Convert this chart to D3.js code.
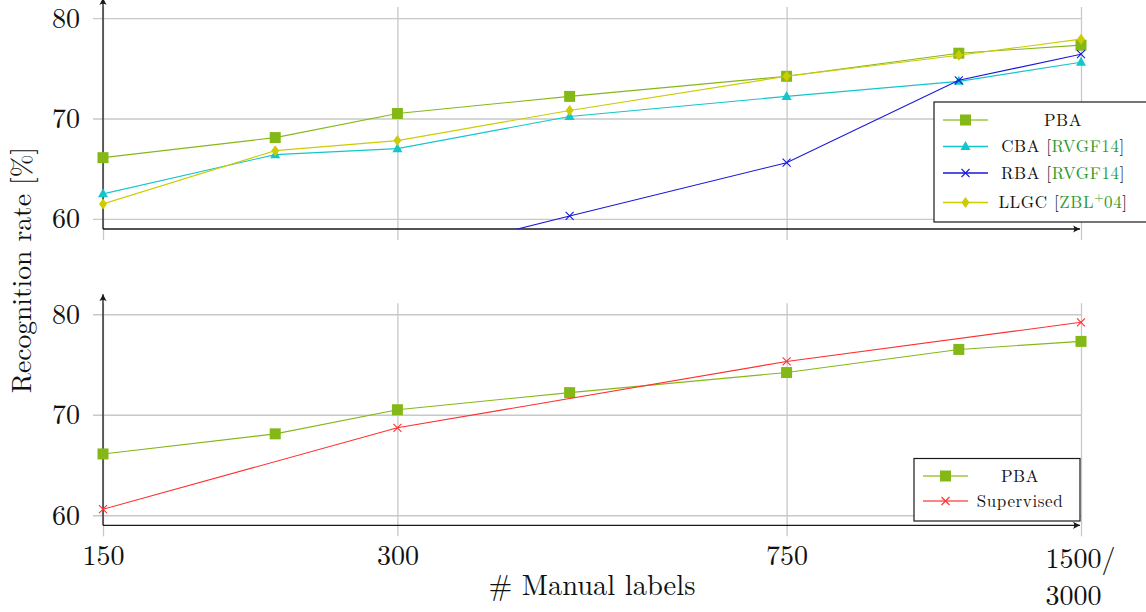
<!DOCTYPE html>
<html>
<head>
<meta charset="utf-8">
<script src="https://cdn.jsdelivr.net/npm/d3@7"></script>
<style>
  html, body { margin: 0; padding: 0; background: #fff; }
  svg { display: block; }
</style>
</head>
<body>
<svg id="chart" width="1146" height="612"></svg>
<script>
// Number of manually labelled samples (log-spaced)
const labelCounts = [150, 225, 300, 450, 750, 1125, 1500];

// Recognition rate [%] per method
const pba  = [66.1, 68.1, 70.5, 72.2, 74.2, 76.5, 77.3];
const cba  = [62.5, 66.4, 67.0, 70.2, 72.2, 73.7, 75.6];
const rba  = [null, null, 56.0, 60.3, 65.6, 73.8, 76.4];
const llgc = [61.5, 66.8, 67.8, 70.8, 74.2, 76.3, 77.9];

// Fully supervised baseline (fewer measurement points)
const supervisedCounts = [150, 300, 750, 1500];
const supervised = [60.6, 68.7, 75.3, 79.2];

// Axis ticks
const xTicks = [150, 300, 750, 1500];
const xTickLabels = [["150"], ["300"], ["750"], ["1500/", "3000"]];
const yTicks = [60, 70, 80];

const FONT = '"Latin Modern Roman", "CMU Serif", "Liberation Serif", serif';
const svg = d3.select("#chart");

const colors = {
  pba: "#84b817",
  cba: "#12c6cc",
  rba: "#1818d8",
  llgc: "#cccc00",
  sup: "#ff3030"
};

const x = d3.scaleLog().domain([150, 1500]).range([103, 1081]);

// arrow head for the axis lines
const defs = svg.append("defs");
defs.append("marker")
  .attr("id", "arrow")
  .attr("markerUnits", "userSpaceOnUse")
  .attr("viewBox", "-8 -5 10 10")
  .attr("refX", 0).attr("refY", 0)
  .attr("markerWidth", 10).attr("markerHeight", 10)
  .attr("orient", "auto")
  .append("path")
  .attr("d", "M0,0 L-7,-3.6 Q-4.5,0 -7,3.6 Z")
  .attr("fill", "#1a1a1a");

// marker symbols
function drawMarker(g, type, cx, cy, color) {
  if (type === "square") {
    g.append("rect").attr("x", cx - 5.5).attr("y", cy - 5.5)
      .attr("width", 11).attr("height", 11).attr("fill", color);
  } else if (type === "triangle") {
    g.append("path").attr("transform", `translate(${cx},${cy})`)
      .attr("d", "M0,-5.5 L5,3.5 L-5,3.5 Z").attr("fill", color);
  } else if (type === "diamond") {
    g.append("path").attr("transform", `translate(${cx},${cy})`)
      .attr("d", "M0,-5.5 L4,0 L0,5.5 L-4,0 Z").attr("fill", color);
  } else if (type === "cross") {
    g.append("path").attr("transform", `translate(${cx},${cy})`)
      .attr("d", "M-4,-4 L4,4 M-4,4 L4,-4")
      .attr("stroke", color).attr("stroke-width", 1.1).attr("fill", "none");
  }
}

function drawPanel(opts) {
  const { top, bottom, series, id, showXLabels } = opts;
  const y = d3.scaleLinear().domain([59, 81]).range([bottom, top]);
  const g = svg.append("g");

  // horizontal grid + y tick labels
  const yAxis = d3.axisLeft(y).tickValues(yTicks)
    .tickSize(-(1081 - 93)).tickPadding(13).tickFormat(d3.format("d"));
  const ya = g.append("g").attr("transform", "translate(93,0)").call(yAxis);
  ya.select(".domain").remove();
  ya.selectAll(".tick line").attr("stroke", "#c8c8c8").attr("stroke-width", 1.3);
  ya.selectAll(".tick text").style("font-family", FONT).style("font-size", "28px")
    .attr("fill", "#111");

  // vertical grid + x tick labels
  const gridBottom = bottom + 11;
  const xAxis = d3.axisBottom(x).tickValues(xTicks)
    .tickSize(-(gridBottom - (top - 1))).tickPadding(11).tickFormat(() => "");
  const xa = g.append("g").attr("transform", `translate(0,${gridBottom})`).call(xAxis);
  xa.select(".domain").remove();
  xa.selectAll(".tick line").attr("stroke", "#c8c8c8").attr("stroke-width", 1.3);

  if (showXLabels) {
    xa.selectAll(".tick text").each(function (d, i) {
      const lines = xTickLabels[i];
      const t = d3.select(this).style("font-family", FONT).style("font-size", "28px")
        .attr("fill", "#111").attr("dy", null).attr("y", 0);
      if (lines.length === 1) {
        t.text(lines[0]).attr("y", 29);
      } else {
        t.attr("text-anchor", "start");
        lines.forEach((s, k) => {
          t.append("tspan").attr("x", -36).attr("y", 32 + k * 37).text(s);
        });
      }
    });
  }

  // axis lines with arrows
  g.append("line").attr("x1", 103).attr("x2", 1080).attr("y1", bottom).attr("y2", bottom)
    .attr("stroke", "#1a1a1a").attr("stroke-width", 1.3).attr("marker-end", "url(#arrow)");
  g.append("line").attr("x1", 103).attr("x2", 103).attr("y1", bottom).attr("y2", top - 10)
    .attr("stroke", "#1a1a1a").attr("stroke-width", 1.3).attr("marker-end", "url(#arrow)");

  // clip region for the data lines
  defs.append("clipPath").attr("id", id).append("rect")
    .attr("x", 103).attr("y", top - 10).attr("width", 1081 - 103).attr("height", bottom - top + 10);

  const line = d3.line()
    .defined(d => d.v !== null)
    .x(d => x(d.n)).y(d => y(d.v));

  series.forEach(s => {
    const pts = s.xs.map((n, i) => ({ n, v: s.values[i] }));
    g.append("path").datum(pts)
      .attr("clip-path", `url(#${id})`)
      .attr("d", line)
      .attr("fill", "none").attr("stroke", s.color).attr("stroke-width", 1.1);
    const mg = g.append("g");
    pts.filter(p => p.v !== null && p.v >= 59).forEach(p => {
      drawMarker(mg, s.marker, x(p.n), y(p.v), s.color);
    });
  });
  return g;
}

drawPanel({
  top: 8, bottom: 229, id: "clipTop", showXLabels: false,
  series: [
    { xs: labelCounts, values: pba,  color: colors.pba,  marker: "square" },
    { xs: labelCounts, values: cba,  color: colors.cba,  marker: "triangle" },
    { xs: labelCounts, values: rba,  color: colors.rba,  marker: "cross" },
    { xs: labelCounts, values: llgc, color: colors.llgc, marker: "diamond" }
  ]
});

drawPanel({
  top: 304.2, bottom: 525.3, id: "clipBottom", showXLabels: true,
  series: [
    { xs: labelCounts, values: pba, color: colors.pba, marker: "square" },
    { xs: supervisedCounts, values: supervised, color: colors.sup, marker: "cross" }
  ]
});

// axis titles
svg.append("text")
  .attr("transform", "translate(31,270) rotate(-90)")
  .attr("text-anchor", "middle")
  .style("font-family", FONT).style("font-size", "27.5px").attr("fill", "#111")
  .text("Recognition rate [%]");

svg.append("text")
  .attr("x", 592).attr("y", 595)
  .attr("text-anchor", "middle")
  .style("font-family", FONT).style("font-size", "28.5px").attr("fill", "#111")
  .text("# Manual labels");

// legends
function legend(box, entries) {
  const g = svg.append("g");
  g.append("rect").attr("x", box.x).attr("y", box.y).attr("width", box.w).attr("height", box.h)
    .attr("fill", "#fff").attr("stroke", "#1a1a1a").attr("stroke-width", 1.2);
  entries.forEach((e, i) => {
    const cy = box.rows[i];
    g.append("line").attr("x1", box.lx).attr("x2", box.lx + 45).attr("y1", cy).attr("y2", cy)
      .attr("stroke", e.color).attr("stroke-width", e.soft ? 2.2 : 1.3)
      .attr("stroke-opacity", e.soft ? 0.6 : 1);
    drawMarker(g, e.marker, box.lx + 22.5, cy, e.color);
    const t = g.append("text").attr("x", box.tx).attr("y", cy + 5.5)
      .attr("text-anchor", "middle")
      .style("font-family", FONT).style("font-size", "17px").style("letter-spacing", "0.6px")
      .attr("fill", "#111");
    t.append("tspan").text(e.name);
    if (e.cite) {
      t.append("tspan").text(" [");
      t.append("tspan").attr("fill", "#2e9a2e").text(e.cite[0]);
      if (e.cite[1]) {
        t.append("tspan").attr("fill", "#2e9a2e").style("font-size", "12px")
          .attr("dy", -7).text(e.cite[1]);
        t.append("tspan").attr("fill", "#2e9a2e").attr("dy", 7).text(e.cite[2]);
      }
      t.append("tspan").text("]");
    }
  });
}

legend({ x: 934, y: 102, w: 230, h: 120, lx: 943, tx: 1063, rows: [120, 146.5, 173, 202.5] }, [
  { name: "PBA", color: colors.pba, marker: "square", soft: true },
  { name: "CBA", cite: ["RVGF14"], color: colors.cba, marker: "triangle" },
  { name: "RBA", cite: ["RVGF14"], color: colors.rba, marker: "cross" },
  { name: "LLGC", cite: ["ZBL", "+", "04"], color: colors.llgc, marker: "diamond" }
]);

legend({ x: 914, y: 458.5, w: 166, h: 62.5, lx: 923, tx: 1020, rows: [476, 501] }, [
  { name: "PBA", color: colors.pba, marker: "square", soft: true },
  { name: "Supervised", color: colors.sup, marker: "cross", soft: true }
]);
</script>
</body>
</html>
